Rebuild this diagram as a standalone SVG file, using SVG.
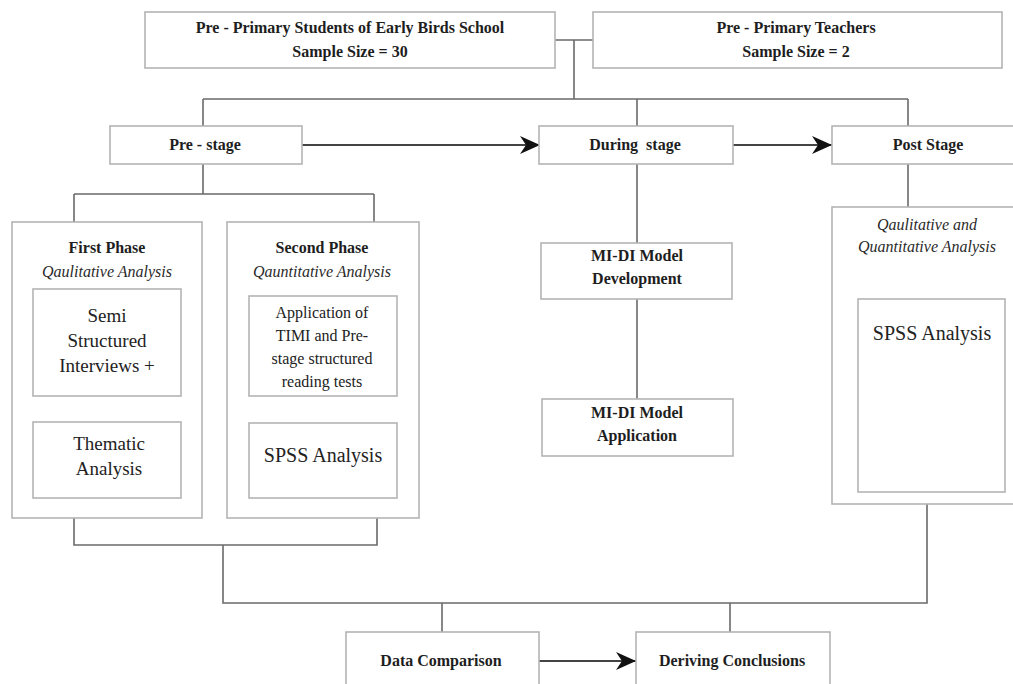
<svg xmlns="http://www.w3.org/2000/svg" width="1013" height="684" viewBox="0 0 1013 684">
<defs>
<style>
.box{fill:#fff;stroke:#b4b4b4;stroke-width:1.6}
.ln{fill:none;stroke:#6a6a6a;stroke-width:1.6}
.ar{fill:none;stroke:#444;stroke-width:2}
.b{font-family:"Liberation Serif","Times New Roman",serif;font-weight:bold;font-size:16px;fill:#1e1e1e;text-anchor:middle}
.i{font-family:"Liberation Serif","Times New Roman",serif;font-style:italic;font-size:16px;fill:#2a2a2a;text-anchor:middle}
.r{font-family:"Liberation Serif","Times New Roman",serif;font-size:19px;fill:#222;text-anchor:middle}
.r16{font-family:"Liberation Serif","Times New Roman",serif;font-size:16px;fill:#222;text-anchor:middle}
.r20{font-family:"Liberation Serif","Times New Roman",serif;font-size:20px;fill:#222;text-anchor:middle}
</style>
<marker id="ah" viewBox="0 0 20 20" refX="20" refY="10" markerWidth="20" markerHeight="20" markerUnits="userSpaceOnUse" orient="auto">
<path d="M0,1 L20,10 L0,19 L6,10 Z" fill="#111"/>
</marker>
</defs>
<rect width="1013" height="684" fill="#fff"/>

<g id="connectors">
<path class="ln" d="M555,40 H593 M574,40 V99 M203,99 H908 M203,99 V126 M637,99 V126 M908,99 V126"/>
<path class="ln" d="M203,164 V194 M74,194 H374 M74,194 V222 M374,194 V222"/>
<path class="ln" d="M637,164 V243 M637,299 V399"/>
<path class="ln" d="M908,164 V207"/>
<path class="ln" d="M74,518 V545 H377 V518 M223,545 V603 H927 V504 M442,603 V632 M730,603 V632"/>
<line class="ar" x1="302" y1="145" x2="540" y2="145" marker-end="url(#ah)"/>
<line class="ar" x1="733" y1="145" x2="832" y2="145" marker-end="url(#ah)"/>
<line class="ar" x1="539" y1="661" x2="636" y2="661" marker-end="url(#ah)"/>
</g>

<g id="students">
<rect class="box" x="145" y="12" width="410" height="56"/>
<text class="b" x="350" y="33">Pre - Primary Students of Early Birds School</text>
<text class="b" x="350" y="57">Sample Size = 30</text>
</g>

<g id="teachers">
<rect class="box" x="593" y="12" width="409" height="56"/>
<text class="b" x="796" y="33">Pre - Primary Teachers</text>
<text class="b" x="796" y="57">Sample Size = 2</text>
</g>

<g id="pre-stage">
<rect class="box" x="110" y="126" width="192" height="38"/>
<text class="b" x="205" y="150">Pre - stage</text>
</g>

<g id="during-stage">
<rect class="box" x="539" y="126" width="194" height="38"/>
<text class="b" x="635" y="150" xml:space="preserve">During  stage</text>
</g>

<g id="post-stage">
<rect class="box" x="832" y="126" width="190" height="38"/>
<text class="b" x="928" y="150">Post Stage</text>
</g>

<g id="first-phase">
<rect class="box" x="12" y="222" width="190" height="296"/>
<text class="b" x="107" y="253">First Phase</text>
<text class="i" x="107" y="277">Qaulitative Analysis</text>
</g>

<g id="semi-structured">
<rect class="box" x="33" y="289" width="148" height="107"/>
<text class="r" x="107" y="322">Semi</text>
<text class="r" x="107" y="347">Structured</text>
<text class="r" x="107" y="372">Interviews +</text>
</g>

<g id="thematic">
<rect class="box" x="33" y="422" width="148" height="76"/>
<text class="r" x="109" y="450">Thematic</text>
<text class="r" x="109" y="475">Analysis</text>
</g>

<g id="second-phase">
<rect class="box" x="227" y="222" width="192" height="296"/>
<text class="b" x="322" y="253">Second Phase</text>
<text class="i" x="322" y="277">Qauntitative Analysis</text>
</g>

<g id="timi">
<rect class="box" x="249" y="296" width="148" height="100"/>
<text class="r16" x="322" y="318">Application of</text>
<text class="r16" x="322" y="341">TIMI and Pre-</text>
<text class="r16" x="322" y="364">stage structured</text>
<text class="r16" x="322" y="387">reading tests</text>
</g>

<g id="spss-second">
<rect class="box" x="249" y="423" width="148" height="75"/>
<text class="r20" x="323" y="462">SPSS Analysis</text>
</g>

<g id="mi-di-development">
<rect class="box" x="541" y="243" width="191" height="56"/>
<text class="b" x="637" y="261">MI-DI Model</text>
<text class="b" x="637" y="284">Development</text>
</g>

<g id="mi-di-application">
<rect class="box" x="542" y="399" width="191" height="57"/>
<text class="b" x="637" y="418">MI-DI Model</text>
<text class="b" x="637" y="441">Application</text>
</g>

<g id="post-analysis">
<rect class="box" x="832" y="207" width="190" height="297"/>
<text class="i" x="927" y="230">Qaulitative and</text>
<text class="i" x="927" y="252">Quantitative Analysis</text>
</g>

<g id="spss-post">
<rect class="box" x="858" y="299" width="147" height="193"/>
<text class="r20" x="932" y="340">SPSS Analysis</text>
</g>

<g id="data-comparison">
<rect class="box" x="346" y="632" width="193" height="60"/>
<text class="b" x="441" y="666">Data Comparison</text>
</g>

<g id="deriving-conclusions">
<rect class="box" x="636" y="632" width="194" height="60"/>
<text class="b" x="732" y="666">Deriving Conclusions</text>
</g>
</svg>
